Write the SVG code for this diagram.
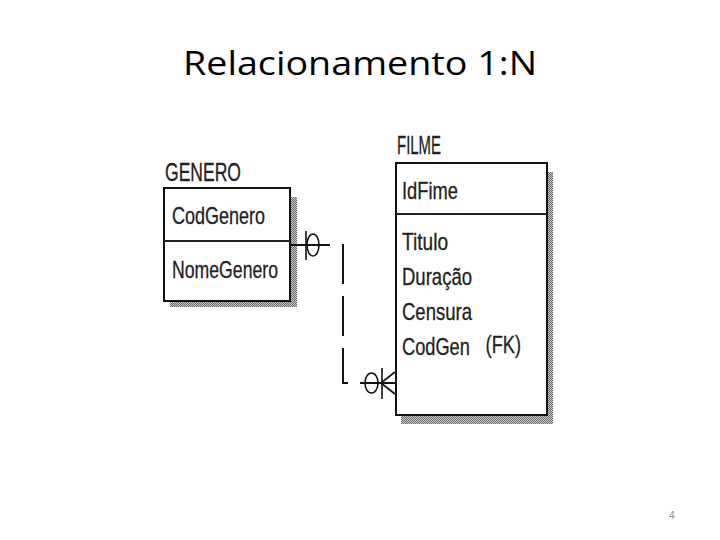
<svg xmlns="http://www.w3.org/2000/svg" width="720" height="540" viewBox="0 0 720 540">
<defs>
<pattern id="dither" width="2" height="2" patternUnits="userSpaceOnUse">
<rect width="2" height="2" fill="#c8c8c8"/>
<rect width="1" height="1" fill="#6a6a6a"/>
<rect x="1" y="1" width="1" height="1" fill="#6a6a6a"/>
</pattern>
</defs>
<style>
.title{font-family:"Open Sans","Liberation Sans",sans-serif;font-size:32px;fill:#000}
.ent{font-family:"Liberation Sans",Arial,sans-serif;font-size:25px;fill:#222;stroke:#222;stroke-width:0.3}
.attr{font-family:"Liberation Sans",Arial,sans-serif;font-size:24px;fill:#222;stroke:#222;stroke-width:0.3}
.box{fill:#fff;stroke:#111;stroke-width:2}
.div{stroke:#222;stroke-width:2}
.shadow{fill:url(#dither)}
.conn{fill:none;stroke:#111;stroke-width:2}
.sym{fill:none;stroke:#111;stroke-width:1.6}
.pg{font-family:"Liberation Sans",Arial,sans-serif;font-size:10px;fill:#8a8a8a}
</style>
<rect width="720" height="540" fill="#fff"/>
<text class="title" x="183" y="75" textLength="354" lengthAdjust="spacingAndGlyphs">Relacionamento 1:N</text>

<g id="genero">
<text class="ent" x="165" y="181" textLength="76" lengthAdjust="spacingAndGlyphs">GENERO</text>
<rect class="shadow" x="290" y="197" width="7" height="110"/>
<rect class="shadow" x="170" y="301" width="127" height="6"/>
<rect class="box" x="164" y="188" width="126" height="113"/>
<line class="div" x1="164" y1="241" x2="290" y2="241"/>
<text class="attr" x="172" y="224" textLength="93" lengthAdjust="spacingAndGlyphs">CodGenero</text>
<text class="attr" x="172" y="278" textLength="106" lengthAdjust="spacingAndGlyphs">NomeGenero</text>
</g>

<g id="filme">
<text class="ent" x="397" y="154" textLength="44" lengthAdjust="spacingAndGlyphs">FILME</text>
<rect class="shadow" x="547" y="172" width="6" height="252"/>
<rect class="shadow" x="401" y="415" width="152" height="9"/>
<rect class="box" x="396" y="163" width="151" height="252"/>
<line class="div" x1="396" y1="214" x2="547" y2="214"/>
<text class="attr" x="402" y="199" textLength="56" lengthAdjust="spacingAndGlyphs">IdFime</text>
<text class="attr" x="402" y="250" textLength="46" lengthAdjust="spacingAndGlyphs">Titulo</text>
<text class="attr" x="402" y="285" textLength="70" lengthAdjust="spacingAndGlyphs">Duração</text>
<text class="attr" x="402" y="320" textLength="70" lengthAdjust="spacingAndGlyphs">Censura</text>
<text class="attr" transform="translate(402,355) scale(0.76,1)">CodGen<tspan x="110" y="-2">(FK)</tspan></text>
</g>

<g id="connectors">
<path class="conn" d="M290,245 H343 V383 H395" stroke-dasharray="40 12"/>
<line class="sym" x1="306" y1="231" x2="306" y2="260"/>
<ellipse class="sym" cx="313" cy="245" rx="6" ry="11"/>
<ellipse class="sym" cx="371.5" cy="383" rx="6.5" ry="10"/>
<line class="sym" x1="382" y1="368" x2="382" y2="399"/>
<line class="sym" x1="381" y1="383" x2="395" y2="372"/>
<line class="sym" x1="381" y1="383" x2="395" y2="394"/>
</g>

<text class="pg" x="669" y="519">4</text>
</svg>
